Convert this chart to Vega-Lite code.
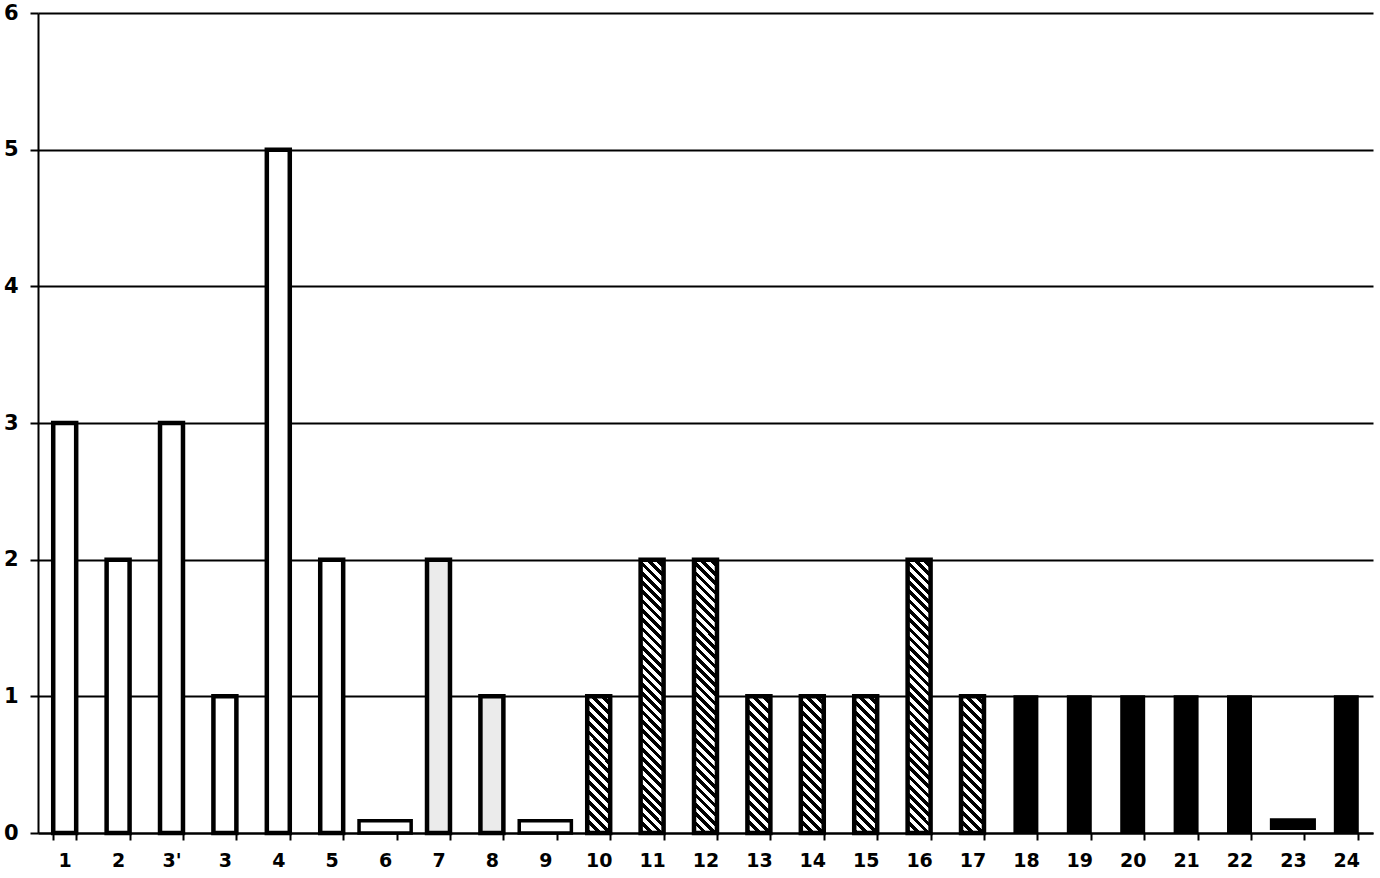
{
  "$schema": "https://vega.github.io/schema/vega-lite/v6.json",
  "width": 1335,
  "height": 820,
  "autosize": {"type": "none"},
  "padding": {"left": 38, "top": 13, "right": 7, "bottom": 45},
  "background": "white",
  "config": {
    "view": {"stroke": null},
    "axis": {"labelColor": "black", "labelFont": "DejaVu Sans", "labelFontWeight": "bold", "domainColor": "black", "tickColor": "black", "domainWidth": 2, "tickWidth": 2}
  },
  "data": {
    "values": [
      {"id": "1", "count": 3, "base": 0, "pattern": "open", "shape": "tall"},
      {"id": "2", "count": 2, "base": 0, "pattern": "open", "shape": "tall"},
      {"id": "3'", "count": 3, "base": 0, "pattern": "open", "shape": "tall"},
      {"id": "3", "count": 1, "base": 0, "pattern": "open", "shape": "tall"},
      {"id": "4", "count": 5, "base": 0, "pattern": "open", "shape": "tall"},
      {"id": "5", "count": 2, "base": 0, "pattern": "open", "shape": "tall"},
      {"id": "6", "count": 0.09, "base": 0, "pattern": "open", "shape": "flat"},
      {"id": "7", "count": 2, "base": 0, "pattern": "dotted", "shape": "tall"},
      {"id": "8", "count": 1, "base": 0, "pattern": "dotted", "shape": "tall"},
      {"id": "9", "count": 0.09, "base": 0, "pattern": "open", "shape": "flat"},
      {"id": "10", "count": 1, "base": 0, "pattern": "hatch", "shape": "tall"},
      {"id": "11", "count": 2, "base": 0, "pattern": "hatch", "shape": "tall"},
      {"id": "12", "count": 2, "base": 0, "pattern": "hatch", "shape": "tall"},
      {"id": "13", "count": 1, "base": 0, "pattern": "hatch", "shape": "tall"},
      {"id": "14", "count": 1, "base": 0, "pattern": "hatch", "shape": "tall"},
      {"id": "15", "count": 1, "base": 0, "pattern": "hatch", "shape": "tall"},
      {"id": "16", "count": 2, "base": 0, "pattern": "hatch", "shape": "tall"},
      {"id": "17", "count": 1, "base": 0, "pattern": "hatch", "shape": "tall"},
      {"id": "18", "count": 1, "base": 0, "pattern": "solid", "shape": "tall"},
      {"id": "19", "count": 1, "base": 0, "pattern": "solid", "shape": "tall"},
      {"id": "20", "count": 1, "base": 0, "pattern": "solid", "shape": "tall"},
      {"id": "21", "count": 1, "base": 0, "pattern": "solid", "shape": "tall"},
      {"id": "22", "count": 1, "base": 0, "pattern": "solid", "shape": "tall"},
      {"id": "23", "count": 0.1, "base": 0.03, "pattern": "solid", "shape": "flat"},
      {"id": "24", "count": 1, "base": 0, "pattern": "solid", "shape": "tall"}
    ]
  },
  "encoding": {
    "x": {
      "field": "id",
      "type": "nominal",
      "scale": {
        "domain": ["1", "2", "3'", "3", "4", "5", "6", "7", "8", "9", "10", "11", "12", "13", "14", "15", "16", "17", "18", "19", "20", "21", "22", "23", "24"],
        "paddingInner": 0.57,
        "paddingOuter": 0.285
      },
      "axis": {"title": null, "labelAngle": 0, "tickBand": "extent", "tickSize": 7, "labelFontSize": 19, "labelPadding": 11, "grid": false}
    },
    "y": {
      "field": "count",
      "type": "quantitative",
      "scale": {"domain": [0, 6], "nice": false},
      "axis": {"title": null, "values": [0, 1, 2, 3, 4, 5, 6], "grid": true, "gridColor": "black", "gridWidth": 2, "tickSize": 8, "labelFontSize": 21, "labelPadding": 12}
    }
  },
  "layer": [
    {
      "transform": [{"filter": "datum.pattern == 'open' && datum.shape == 'tall'"}],
      "mark": {"type": "bar", "fill": "white", "stroke": "black", "strokeWidth": 4.5}
    },
    {
      "transform": [{"filter": "datum.pattern == 'open' && datum.shape == 'flat'"}],
      "mark": {"type": "bar", "fill": "white", "stroke": "black", "strokeWidth": 3.5, "width": {"band": 2.27}},
      "encoding": {"y2": {"field": "base"}}
    },
    {
      "transform": [{"filter": "datum.pattern == 'dotted'"}],
      "mark": {"type": "bar", "fill": "#ebebeb", "stroke": "black", "strokeWidth": 4.5}
    },
    {
      "transform": [{"filter": "datum.pattern == 'hatch' && datum.count == 1"}],
      "mark": {
        "type": "bar", "stroke": "black", "strokeWidth": 4.5,
        "fill": {
          "gradient": "linear", "x1": 0, "y1": 1, "x2": 0.1912, "y2": -0.1361,
          "stops": [
            {"offset": 0, "color": "#000"}, {"offset": 0.03125, "color": "#000"}, {"offset": 0.03125, "color": "#fff"}, {"offset": 0.0625, "color": "#fff"},
            {"offset": 0.0625, "color": "#000"}, {"offset": 0.09375, "color": "#000"}, {"offset": 0.09375, "color": "#fff"}, {"offset": 0.125, "color": "#fff"},
            {"offset": 0.125, "color": "#000"}, {"offset": 0.15625, "color": "#000"}, {"offset": 0.15625, "color": "#fff"}, {"offset": 0.1875, "color": "#fff"},
            {"offset": 0.1875, "color": "#000"}, {"offset": 0.21875, "color": "#000"}, {"offset": 0.21875, "color": "#fff"}, {"offset": 0.25, "color": "#fff"},
            {"offset": 0.25, "color": "#000"}, {"offset": 0.28125, "color": "#000"}, {"offset": 0.28125, "color": "#fff"}, {"offset": 0.3125, "color": "#fff"},
            {"offset": 0.3125, "color": "#000"}, {"offset": 0.34375, "color": "#000"}, {"offset": 0.34375, "color": "#fff"}, {"offset": 0.375, "color": "#fff"},
            {"offset": 0.375, "color": "#000"}, {"offset": 0.40625, "color": "#000"}, {"offset": 0.40625, "color": "#fff"}, {"offset": 0.4375, "color": "#fff"},
            {"offset": 0.4375, "color": "#000"}, {"offset": 0.46875, "color": "#000"}, {"offset": 0.46875, "color": "#fff"}, {"offset": 0.5, "color": "#fff"},
            {"offset": 0.5, "color": "#000"}, {"offset": 0.53125, "color": "#000"}, {"offset": 0.53125, "color": "#fff"}, {"offset": 0.5625, "color": "#fff"},
            {"offset": 0.5625, "color": "#000"}, {"offset": 0.59375, "color": "#000"}, {"offset": 0.59375, "color": "#fff"}, {"offset": 0.625, "color": "#fff"},
            {"offset": 0.625, "color": "#000"}, {"offset": 0.65625, "color": "#000"}, {"offset": 0.65625, "color": "#fff"}, {"offset": 0.6875, "color": "#fff"},
            {"offset": 0.6875, "color": "#000"}, {"offset": 0.71875, "color": "#000"}, {"offset": 0.71875, "color": "#fff"}, {"offset": 0.75, "color": "#fff"},
            {"offset": 0.75, "color": "#000"}, {"offset": 0.78125, "color": "#000"}, {"offset": 0.78125, "color": "#fff"}, {"offset": 0.8125, "color": "#fff"},
            {"offset": 0.8125, "color": "#000"}, {"offset": 0.84375, "color": "#000"}, {"offset": 0.84375, "color": "#fff"}, {"offset": 0.875, "color": "#fff"},
            {"offset": 0.875, "color": "#000"}, {"offset": 0.90625, "color": "#000"}, {"offset": 0.90625, "color": "#fff"}, {"offset": 0.9375, "color": "#fff"},
            {"offset": 0.9375, "color": "#000"}, {"offset": 0.96875, "color": "#000"}, {"offset": 0.96875, "color": "#fff"}, {"offset": 1, "color": "#fff"}
          ]
        }
      }
    },
    {
      "transform": [{"filter": "datum.pattern == 'hatch' && datum.count == 2"}],
      "mark": {
        "type": "bar", "stroke": "black", "strokeWidth": 4.5,
        "fill": {
          "gradient": "linear", "x1": 0, "y1": 1, "x2": 0.0906, "y2": -0.0766,
          "stops": [
            {"offset": 0, "color": "#000"}, {"offset": 0.015625, "color": "#000"}, {"offset": 0.015625, "color": "#fff"}, {"offset": 0.03125, "color": "#fff"},
            {"offset": 0.03125, "color": "#000"}, {"offset": 0.046875, "color": "#000"}, {"offset": 0.046875, "color": "#fff"}, {"offset": 0.0625, "color": "#fff"},
            {"offset": 0.0625, "color": "#000"}, {"offset": 0.078125, "color": "#000"}, {"offset": 0.078125, "color": "#fff"}, {"offset": 0.09375, "color": "#fff"},
            {"offset": 0.09375, "color": "#000"}, {"offset": 0.109375, "color": "#000"}, {"offset": 0.109375, "color": "#fff"}, {"offset": 0.125, "color": "#fff"},
            {"offset": 0.125, "color": "#000"}, {"offset": 0.140625, "color": "#000"}, {"offset": 0.140625, "color": "#fff"}, {"offset": 0.15625, "color": "#fff"},
            {"offset": 0.15625, "color": "#000"}, {"offset": 0.171875, "color": "#000"}, {"offset": 0.171875, "color": "#fff"}, {"offset": 0.1875, "color": "#fff"},
            {"offset": 0.1875, "color": "#000"}, {"offset": 0.203125, "color": "#000"}, {"offset": 0.203125, "color": "#fff"}, {"offset": 0.21875, "color": "#fff"},
            {"offset": 0.21875, "color": "#000"}, {"offset": 0.234375, "color": "#000"}, {"offset": 0.234375, "color": "#fff"}, {"offset": 0.25, "color": "#fff"},
            {"offset": 0.25, "color": "#000"}, {"offset": 0.265625, "color": "#000"}, {"offset": 0.265625, "color": "#fff"}, {"offset": 0.28125, "color": "#fff"},
            {"offset": 0.28125, "color": "#000"}, {"offset": 0.296875, "color": "#000"}, {"offset": 0.296875, "color": "#fff"}, {"offset": 0.3125, "color": "#fff"},
            {"offset": 0.3125, "color": "#000"}, {"offset": 0.328125, "color": "#000"}, {"offset": 0.328125, "color": "#fff"}, {"offset": 0.34375, "color": "#fff"},
            {"offset": 0.34375, "color": "#000"}, {"offset": 0.359375, "color": "#000"}, {"offset": 0.359375, "color": "#fff"}, {"offset": 0.375, "color": "#fff"},
            {"offset": 0.375, "color": "#000"}, {"offset": 0.390625, "color": "#000"}, {"offset": 0.390625, "color": "#fff"}, {"offset": 0.40625, "color": "#fff"},
            {"offset": 0.40625, "color": "#000"}, {"offset": 0.421875, "color": "#000"}, {"offset": 0.421875, "color": "#fff"}, {"offset": 0.4375, "color": "#fff"},
            {"offset": 0.4375, "color": "#000"}, {"offset": 0.453125, "color": "#000"}, {"offset": 0.453125, "color": "#fff"}, {"offset": 0.46875, "color": "#fff"},
            {"offset": 0.46875, "color": "#000"}, {"offset": 0.484375, "color": "#000"}, {"offset": 0.484375, "color": "#fff"}, {"offset": 0.5, "color": "#fff"},
            {"offset": 0.5, "color": "#000"}, {"offset": 0.515625, "color": "#000"}, {"offset": 0.515625, "color": "#fff"}, {"offset": 0.53125, "color": "#fff"},
            {"offset": 0.53125, "color": "#000"}, {"offset": 0.546875, "color": "#000"}, {"offset": 0.546875, "color": "#fff"}, {"offset": 0.5625, "color": "#fff"},
            {"offset": 0.5625, "color": "#000"}, {"offset": 0.578125, "color": "#000"}, {"offset": 0.578125, "color": "#fff"}, {"offset": 0.59375, "color": "#fff"},
            {"offset": 0.59375, "color": "#000"}, {"offset": 0.609375, "color": "#000"}, {"offset": 0.609375, "color": "#fff"}, {"offset": 0.625, "color": "#fff"},
            {"offset": 0.625, "color": "#000"}, {"offset": 0.640625, "color": "#000"}, {"offset": 0.640625, "color": "#fff"}, {"offset": 0.65625, "color": "#fff"},
            {"offset": 0.65625, "color": "#000"}, {"offset": 0.671875, "color": "#000"}, {"offset": 0.671875, "color": "#fff"}, {"offset": 0.6875, "color": "#fff"},
            {"offset": 0.6875, "color": "#000"}, {"offset": 0.703125, "color": "#000"}, {"offset": 0.703125, "color": "#fff"}, {"offset": 0.71875, "color": "#fff"},
            {"offset": 0.71875, "color": "#000"}, {"offset": 0.734375, "color": "#000"}, {"offset": 0.734375, "color": "#fff"}, {"offset": 0.75, "color": "#fff"},
            {"offset": 0.75, "color": "#000"}, {"offset": 0.765625, "color": "#000"}, {"offset": 0.765625, "color": "#fff"}, {"offset": 0.78125, "color": "#fff"},
            {"offset": 0.78125, "color": "#000"}, {"offset": 0.796875, "color": "#000"}, {"offset": 0.796875, "color": "#fff"}, {"offset": 0.8125, "color": "#fff"},
            {"offset": 0.8125, "color": "#000"}, {"offset": 0.828125, "color": "#000"}, {"offset": 0.828125, "color": "#fff"}, {"offset": 0.84375, "color": "#fff"},
            {"offset": 0.84375, "color": "#000"}, {"offset": 0.859375, "color": "#000"}, {"offset": 0.859375, "color": "#fff"}, {"offset": 0.875, "color": "#fff"},
            {"offset": 0.875, "color": "#000"}, {"offset": 0.890625, "color": "#000"}, {"offset": 0.890625, "color": "#fff"}, {"offset": 0.90625, "color": "#fff"},
            {"offset": 0.90625, "color": "#000"}, {"offset": 0.921875, "color": "#000"}, {"offset": 0.921875, "color": "#fff"}, {"offset": 0.9375, "color": "#fff"},
            {"offset": 0.9375, "color": "#000"}, {"offset": 0.953125, "color": "#000"}, {"offset": 0.953125, "color": "#fff"}, {"offset": 0.96875, "color": "#fff"},
            {"offset": 0.96875, "color": "#000"}, {"offset": 0.984375, "color": "#000"}, {"offset": 0.984375, "color": "#fff"}, {"offset": 1, "color": "#fff"}
          ]
        }
      }
    },
    {
      "transform": [{"filter": "datum.pattern == 'solid' && datum.shape == 'tall'"}],
      "mark": {"type": "bar", "fill": "black", "stroke": "black", "strokeWidth": 2}
    },
    {
      "transform": [{"filter": "datum.pattern == 'solid' && datum.shape == 'flat'"}],
      "mark": {"type": "bar", "fill": "black", "stroke": "black", "strokeWidth": 2, "width": {"band": 1.92}},
      "encoding": {"y2": {"field": "base"}}
    }
  ]
}
